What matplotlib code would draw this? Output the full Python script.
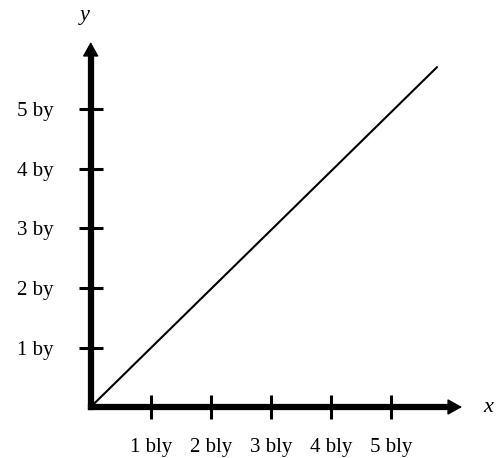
import matplotlib
matplotlib.use("Agg")
import matplotlib.pyplot as plt

plt.rcParams['font.family'] = ['Liberation Serif', 'DejaVu Serif']

# data
x_ticks = [1, 2, 3, 4, 5]
x_labels = ['1 bly', '2 bly', '3 bly', '4 bly', '5 bly']
y_ticks = [1, 2, 3, 4, 5]
y_labels = ['1 by', '2 by', '3 by', '4 by', '5 by']
line_x = [0, 5.77]
line_y = [0, 5.71]

fig = plt.figure(figsize=(4.97, 4.58), dpi=100)
ax = fig.add_axes([0, 0, 1, 1])

# pixel mapping: origin at (90.7, 407), ~60 px per unit
ax.set_xlim(-90.7 / 60.0, (497 - 90.7) / 60.0)
ax.set_ylim((407 - 458) / 59.5, 407 / 59.5)

for s in ['top', 'right']:
    ax.spines[s].set_visible(False)
for s in ['left', 'bottom']:
    ax.spines[s].set_position(('data', 0))
    ax.spines[s].set_linewidth(4.5)
    ax.spines[s].set_capstyle('projecting')
ax.spines['bottom'].set_bounds(0, 5.95)
ax.spines['left'].set_bounds(0, 5.9)

ax.set_xticks(x_ticks, x_labels)
ax.set_yticks(y_ticks, y_labels)
ax.tick_params(axis='both', direction='inout', length=17, width=2.2,
               labelsize=15, color='black')
ax.tick_params(axis='x', pad=14)
ax.tick_params(axis='y', pad=18)

# arrow heads
head = dict(arrowstyle='-|>,head_length=0.9,head_width=0.5', color='black',
            lw=1, shrinkA=0, shrinkB=0)
ax.annotate('', xy=((462 - 90.7) / 60.0, 0), xytext=(5.9, 0), arrowprops=head)
ax.annotate('', xy=(0, (407 - 42) / 59.5), xytext=(0, 5.85), arrowprops=head)

ax.plot(line_x, line_y, color='black', lw=1.5)

ax.text((488 - 90.7) / 60.0, 0, 'x', style='italic', fontsize=16,
        ha='center', va='center')
ax.text((85 - 90.7) / 60.0, (407 - 16) / 59.5, 'y', style='italic',
        fontsize=16, ha='center', va='center')

fig.savefig('out.png', dpi=100)
